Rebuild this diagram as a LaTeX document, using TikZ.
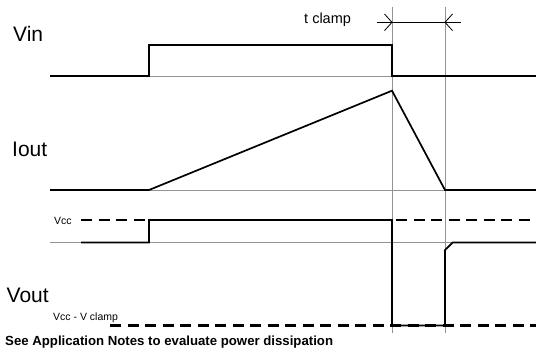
\documentclass[tikz,border=0pt]{standalone}
\usepackage{fontspec}
\setmainfont{Liberation Sans}
\begin{document}
\begin{tikzpicture}[x=1bp,y=-1bp,
  sig/.style={line width=1.7bp,black,line join=miter},
  grid/.style={line width=0.9bp,gray!85},
  dashsig/.style={line width=2.6bp,black,dash pattern=on 11bp off 6.5bp},
  biglbl/.style={font=\fontsize{21bp}{24bp}\selectfont,anchor=base west,inner sep=0pt},
  smalllbl/.style={font=\fontsize{10.5bp}{12bp}\selectfont,anchor=base west,inner sep=0pt},
  dimlbl/.style={font=\fontsize{14.5bp}{16bp}\selectfont,anchor=base west,inner sep=0pt},
  notelbl/.style={font=\fontsize{13.2bp}{15bp}\selectfont\bfseries,anchor=base west,inner sep=0pt}]
\path[use as bounding box] (0,0) rectangle (536,349);

% grey reference lines
\coordinate (g1top) at (392,7);
\coordinate (g1bot) at (392,333);
\coordinate (g2top) at (445,7);
\coordinate (g2bot) at (445,333);
\draw[grid] (g1top) -- (g1bot);
\draw[grid] (g2top) -- (g2bot);
\coordinate (vinL) at (50,76);  \coordinate (vinR) at (536,76);
\coordinate (ioL) at (50,190);  \coordinate (ioR) at (536,190);
\coordinate (voL) at (50,242.5);\coordinate (voR) at (536,242.5);
\draw[grid] (vinL) -- (vinR);
\draw[grid] (ioL) -- (ioR);
\draw[grid] (voL) -- (voR);

% labels
\node[biglbl] (vin) at (13,41.5) {Vin};
\node[biglbl] (iout) at (12,156) {Iout};
\node[biglbl] (vout) at (6.5,302) {Vout};
\node[smalllbl] (vcc) at (54,224) {Vcc};
\node[smalllbl] (vcl) at (53,320.5) {Vcc - V clamp};
\node[dimlbl] (tcl) at (304,23) {t clamp};
\node[notelbl] (note) at (5,345) {See Application Notes to evaluate power dissipation};

% dimension line
\coordinate (dL) at (376.5,22.3);
\coordinate (dR) at (461,22.3);
\draw[line width=0.8bp] (dL) -- (dR);
\coordinate (a1) at (392,22.3);
\coordinate (a2) at (445,22.3);
\draw[line width=0.8bp] ([shift={(-7.5,-8.3)}]a1) -- (a1) -- ([shift={(-7.5,8.3)}]a1);
\draw[line width=0.8bp] ([shift={(7.5,-8.3)}]a2) -- (a2) -- ([shift={(7.5,8.3)}]a2);

% dashed levels
\coordinate (vccL) at (81,220);   \coordinate (vccR) at (536,220);
\coordinate (vclL) at (110,325.5);\coordinate (vclR) at (536,325.5);
\draw[dashsig] (vccL) -- (vccR);
\draw[dashsig] (vclL) -- (vclR);

% Vin
\coordinate (vin1) at (149,76); \coordinate (vin2) at (149,45);
\coordinate (vin3) at (392,45); \coordinate (vin4) at (392,76);
\draw[sig] (vinL) -- (vin1) -- (vin2) -- (vin3) -- (vin4) -- (vinR);

% Iout
\coordinate (io1) at (149,190); \coordinate (io2) at (392,90.7);
\coordinate (io3) at (445,190);
\draw[sig] (ioL) -- (io1) -- (io2) -- (io3) -- (ioR);

% Vout
\coordinate (vo0) at (81,242.5); \coordinate (vo1) at (149,242.5);
\coordinate (vo2) at (149,220);  \coordinate (vo3) at (392,220);
\coordinate (vo4) at (392,325.5);\coordinate (vo5) at (445,325.5);
\coordinate (vo6) at (445,250);  \coordinate (vo7) at (452.7,242.5);
\draw[sig] (vo0) -- (vo1) -- (vo2) -- (vo3) -- (vo4) -- (vo5) -- (vo6) -- (vo7) -- (voR);
\end{tikzpicture}
\end{document}
